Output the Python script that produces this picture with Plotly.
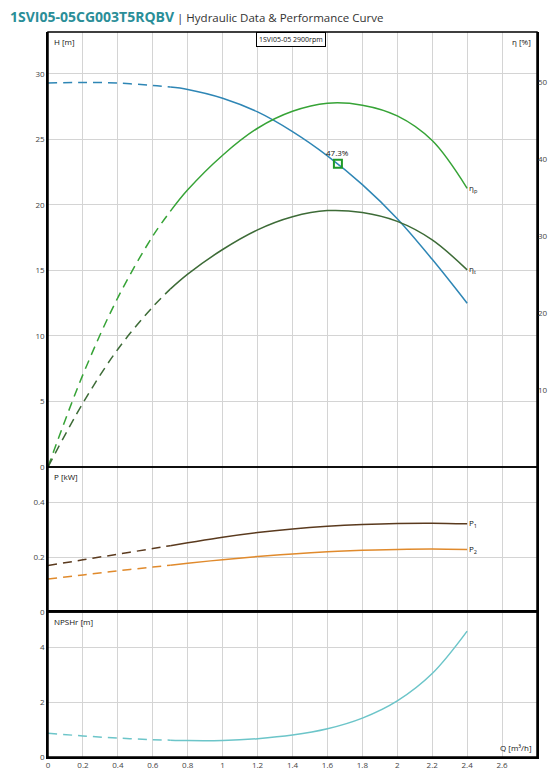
import plotly.graph_objects as go

# ---------------- data ----------------
TITLE_MODEL = "1SVI05-05CG003T5RQBV"
TITLE_REST = " | Hydraulic Data & Performance Curve"
LEGEND_TEXT = "1SVI05-05 2900rpm"

Q_SPLIT = 0.7  # curves dashed below this flow

h_q = [0.0, 0.2, 0.4, 0.6, 0.7, 0.8, 1.0, 1.2, 1.4, 1.6, 1.8, 2.0, 2.2, 2.4]
h_val = [29.3, 29.35, 29.3, 29.12, 29.0, 28.82, 28.15, 27.1, 25.6, 23.75, 21.55, 18.95, 15.85, 12.5]

etap_q = [0.0, 0.2, 0.4, 0.6, 0.7, 0.8, 1.0, 1.2, 1.4, 1.6, 1.8, 2.0, 2.2, 2.4]
etap_val = [0.0, 12.0, 22.0, 30.0, 33.2, 36.0, 40.5, 44.0, 46.2, 47.25, 47.0, 45.6, 42.4, 36.2]

etat_q = [0.0, 0.2, 0.4, 0.6, 0.7, 0.8, 1.0, 1.2, 1.4, 1.6, 1.8, 2.0, 2.2, 2.4]
etat_val = [0.0, 8.3, 15.3, 20.8, 23.1, 25.05, 28.25, 30.8, 32.5, 33.3, 33.05, 31.9, 29.5, 25.6]

p_q = [0.0, 0.2, 0.4, 0.6, 0.7, 0.8, 1.0, 1.2, 1.4, 1.6, 1.8, 2.0, 2.2, 2.4]
p1_val = [0.169, 0.19, 0.2105, 0.231, 0.2415, 0.252, 0.2725, 0.2895, 0.3025, 0.312, 0.3185, 0.3225, 0.3235, 0.321]
p2_val = [0.120, 0.135, 0.150, 0.1635, 0.1705, 0.1775, 0.1905, 0.202, 0.2115, 0.219, 0.2245, 0.228, 0.2295, 0.2275]

npsh_q = [0.0, 0.2, 0.4, 0.6, 0.7, 0.8, 1.0, 1.2, 1.4, 1.6, 1.8, 2.0, 2.2, 2.4]
npsh_val = [0.87, 0.77, 0.69, 0.635, 0.615, 0.60, 0.605, 0.67, 0.80, 1.03, 1.42, 2.05, 3.05, 4.6]

bep_q = 1.66
bep_h = 23.15
bep_eta = 47.3

x_ticks = [0, 0.2, 0.4, 0.6, 0.8, 1.0, 1.2, 1.4, 1.6, 1.8, 2.0, 2.2, 2.4, 2.6]
h_ticks = [0, 5, 10, 15, 20, 25, 30]
eta_ticks = [10, 20, 30, 40, 50]
p_ticks = [0, 0.2, 0.4]
npsh_ticks = [0, 2, 4]

# ---------------- style ----------------
C_H = "#2e86b5"
C_ETAP = "#36a336"
C_ETAT = "#3d6b37"
C_P1 = "#5a3a1e"
C_P2 = "#e08a2c"
C_NPSH = "#6cc5c9"
C_BEP = "#1f9a28"
FONT = "Open Sans"
GRID = "#d4d4d4"
DASH = "9px,6px"

# page body has an 8px default margin
FIG_W, FIG_H = 550, 766

fig = go.Figure()


def add_curve(qs, vs, color, yaxis):
    lo_q = [q for q in qs if q <= Q_SPLIT]
    lo_v = [v for q, v in zip(qs, vs) if q <= Q_SPLIT]
    hi_q = [q for q in qs if q >= Q_SPLIT]
    hi_v = [v for q, v in zip(qs, vs) if q >= Q_SPLIT]
    fig.add_trace(go.Scatter(x=lo_q, y=lo_v, mode="lines", xaxis="x", yaxis=yaxis,
                             line=dict(color=color, width=1.5, dash=DASH, shape="spline"),
                             showlegend=False, hoverinfo="skip"))
    fig.add_trace(go.Scatter(x=hi_q, y=hi_v, mode="lines", xaxis="x", yaxis=yaxis,
                             line=dict(color=color, width=1.5, shape="spline"),
                             showlegend=False, hoverinfo="skip"))


add_curve(h_q, h_val, C_H, "y")
add_curve(etap_q, etap_val, C_ETAP, "y4")
add_curve(etat_q, etat_val, C_ETAT, "y4")
add_curve(p_q, p1_val, C_P1, "y2")
add_curve(p_q, p2_val, C_P2, "y2")
add_curve(npsh_q, npsh_val, C_NPSH, "y3")

fig.add_trace(go.Scatter(x=[bep_q], y=[bep_h], mode="markers", xaxis="x", yaxis="y",
                         marker=dict(symbol="square-open", size=8, color=C_BEP,
                                     line=dict(color=C_BEP, width=2)),
                         showlegend=False, hoverinfo="skip"))

axis_common = dict(showgrid=True, gridcolor=GRID, gridwidth=1, zeroline=False,
                   showline=True, linecolor="black", linewidth=1.5, mirror=True,
                   automargin=False,
                   ticks="", tickfont=dict(family=FONT, size=8, color="#444"))

fig.update_layout(
    width=FIG_W, height=FIG_H,
    margin=dict(l=40, r=21, t=24, b=17, autoexpand=False),
    paper_bgcolor="white", plot_bgcolor="white",
    font=dict(family=FONT, size=8, color="#222"),
    title=dict(
        text=(f"<b><span style='color:#2a8e98;font-size:14px'>{TITLE_MODEL}</span></b>"
              f"<span style='color:#333;font-size:11.5px'>{TITLE_REST}</span>"),
        x=2 / FIG_W, xanchor="left", xref="container",
        y=1 - 9.5 / FIG_H, yanchor="middle", yref="container",
        font=dict(family=FONT, size=14),
    ),
    xaxis=dict(range=[0, 2.8], tickvals=x_ticks, anchor="y3", domain=[0, 1], **axis_common),
    yaxis=dict(range=[0, 33.2], tickvals=h_ticks, domain=[0.4, 1], anchor="x", **axis_common),
    yaxis2=dict(range=[0, 0.528], tickvals=p_ticks, domain=[0.2, 0.4], anchor="x", **axis_common),
    yaxis3=dict(range=[0, 5.3], tickvals=npsh_ticks, domain=[0, 0.2], anchor="x", **axis_common),
    yaxis4=dict(range=[0, 56.5], tickvals=eta_ticks, overlaying="y", side="right", anchor="x",
                showgrid=False, zeroline=False, showline=False, ticks="", automargin=False,
                tickfont=dict(family=FONT, size=8, color="#444")),
)

PW, PH = 489.0, 725.0
ann = []
lab = dict(showarrow=False, font=dict(family=FONT, size=8, color="#111"))
ann.append(dict(text="H [m]", xref="paper", yref="paper", x=4 / PW, y=1 - 2 / PH,
                xanchor="left", yanchor="top", **lab))
ann.append(dict(text="η [%]", xref="paper", yref="paper", x=1 - 4 / PW, y=1 - 2 / PH,
                xanchor="right", yanchor="top", **lab))
ann.append(dict(text="P [kW]", xref="paper", yref="paper", x=4 / PW, y=0.4 - 2 / PH,
                xanchor="left", yanchor="top", **lab))
ann.append(dict(text="NPSHr [m]", xref="paper", yref="paper", x=4 / PW, y=0.2 - 2 / PH,
                xanchor="left", yanchor="top", **lab))
ann.append(dict(text="Q [m³/h]", xref="paper", yref="paper", x=1 - 3 / PW, y=2 / PH,
                xanchor="right", yanchor="bottom", **lab))
ann.append(dict(text=LEGEND_TEXT, xref="paper", yref="paper", x=(291 - 48) / PW, y=1,
                xanchor="center", yanchor="top", bordercolor="black", borderwidth=1,
                borderpad=2, bgcolor="white", showarrow=False,
                font=dict(family=FONT, size=7, color="#111")))
# curve end labels
ann.append(dict(text="η<sub>p</sub>", xref="x", yref="y4", x=etap_q[-1], y=etap_val[-1],
                xanchor="left", yanchor="middle", **lab))
ann.append(dict(text="η<sub>t</sub>", xref="x", yref="y4", x=etat_q[-1], y=etat_val[-1],
                xanchor="left", yanchor="middle", **lab))
ann.append(dict(text="P<sub>1</sub>", xref="x", yref="y2", x=p_q[-1], y=p1_val[-1],
                xanchor="left", yanchor="middle", **lab))
ann.append(dict(text="P<sub>2</sub>", xref="x", yref="y2", x=p_q[-1], y=p2_val[-1],
                xanchor="left", yanchor="middle", **lab))
ann.append(dict(text=f"{bep_eta}%", xref="x", yref="y", x=bep_q, y=bep_h,
                xanchor="center", yanchor="bottom", yshift=4, **lab))
fig.update_layout(annotations=ann)

# panel frames
for y0, y1 in [(0.4, 1.0), (0.2, 0.4), (0.0, 0.2)]:
    fig.add_shape(type="rect", xref="paper", yref="paper", x0=0, x1=1, y0=y0, y1=y1,
                  line=dict(color="black", width=1.5), layer="above")

fig.write_html("out.html")
